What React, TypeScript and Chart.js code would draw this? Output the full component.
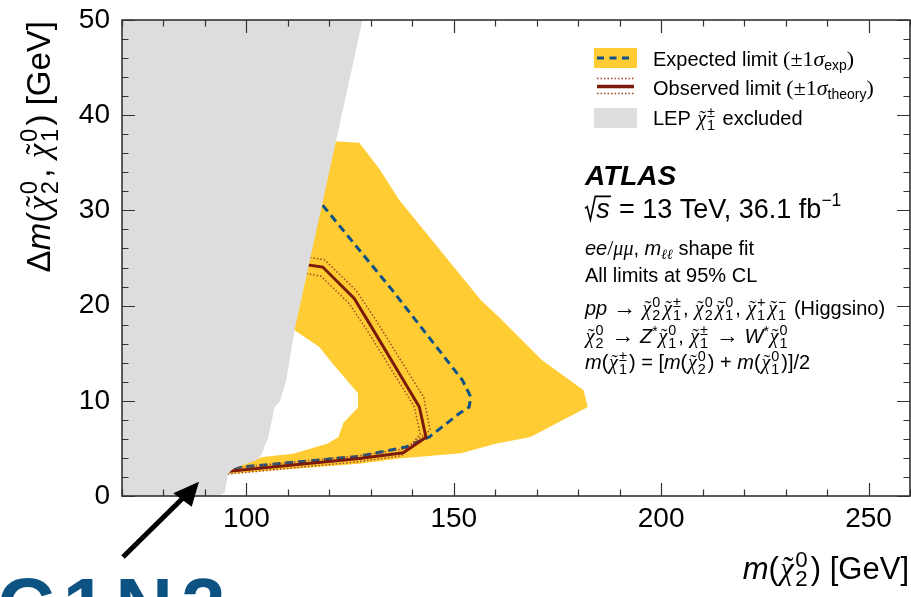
import React, { useEffect, useRef } from "react";
import { Chart, registerables } from "chart.js";

Chart.register(...registerables);

const SANS = '"Liberation Sans", Arial, Helvetica, sans-serif';
const SERIF = '"Liberation Serif", "DejaVu Serif", "Times New Roman", serif';

const YELLOW = "#ffcc33";
const GREY = "#dddddd";
const BLUE = "#0f5289";
const DARK_RED = "#7c1a0c";
const DOT_RED = "#a4482a";
const FRAME = "#333333";

// Axis ranges (GeV) and tick spacing
const xMin = 70, xMax = 260, xStep = 10, xLabelEvery = 50;
const yMin = 0, yMax = 50, yStep = 2, yLabelEvery = 10;

type Pt = [number, number];

// LEP chargino exclusion: m(chi2), delta m
const lepRegion: Pt[] = [
  [70, 0], [70, 50], [128.0, 50], [121.6, 37.3], [111.6, 17.4], [109.6, 12.15],
  [108.0, 9.87], [106.8, 9.35], [105.2, 6.03], [104.8, 5.67], [103.6, 4.28],
  [102.4, 3.75], [96.8, 2.88], [95.6, 2.35], [95.3, 1.65], [94.8, 0.42], [93.6, 0],
];

// Expected limit +-1 sigma band: outer contour and the enclosed allowed island
const expBandOuter: Pt[] = [
  [120.0, 37.3], [127.2, 37.1], [132.0, 34.4], [136.85, 31.1], [156.5, 20.6],
  [160.9, 18.8], [171.3, 14.25], [181.3, 11.1], [182.3, 9.35], [168.5, 6.2],
  [160.1, 5.5], [151.7, 4.5], [136.85, 3.93], [127.2, 3.4], [96.0, 2.35],
  [90, 2.0], [90, 37.3],
];
const expBandHole: Pt[] = [
  [111.6, 17.4], [117.6, 15.65], [120.8, 13.9], [126.9, 10.8], [126.9, 9.3],
  [123.4, 7.7], [122.2, 6.2], [119.5, 5.5], [111.2, 4.45], [104.0, 4.1],
  [99.0, 3.4], [99.0, 17.4],
];

// Expected limit contour
const expectedLimit: Pt[] = [
  [116.4, 31.6], [135.2, 21.6], [152.1, 12.15], [153.3, 11.1], [154.1, 10.4],
  [153.7, 9.35], [151.3, 8.66], [144.1, 6.2], [138.5, 5.15], [127.2, 4.17],
  [97.2, 2.98], [94.8, 2.8],
];

// Observed limit contour and its +-1 sigma(theory) variations
const observedLimit: Pt[] = [
  [112.8, 24.4], [118.4, 24.05], [126.0, 20.74], [130.4, 17.58], [141.7, 9.35],
  [143.3, 6.17], [137.8, 4.54], [127.2, 3.93], [96.4, 2.63], [94.1, 2.49],
];
const observedUp: Pt[] = [
  [112.8, 25.2], [118.8, 24.83], [126.4, 21.61], [131.25, 18.46], [142.75, 10.37],
  [144.3, 6.9], [138.3, 4.96], [127.2, 4.24], [96.4, 2.94], [94.1, 2.8],
];
const observedDown: Pt[] = [
  [112.8, 23.5], [118.0, 23.08], [124.8, 20.21], [129.6, 17.06], [140.5, 9.35],
  [141.9, 6.48], [137.3, 4.22], [127.2, 3.61], [96.4, 2.33], [94.1, 2.2],
];

const xy = (pts: Pt[]) => pts.map(([x, y]) => ({ x, y }));

// ---------- rich text helpers (sub/superscripts, tilde chi, radicals) ----------
type Run = {
  t?: string;
  serif?: boolean;
  it?: boolean;
  bold?: boolean;
  k?: number; // size factor
  rise?: number; // baseline shift in em, up positive
  chi?: [string, string]; // tilde chi with stacked superscript / subscript
  sqrt?: string; // text under a radical
};

const SCRIPT = 0.72;

const fontFor = (r: Run, S: number) =>
  `${r.it ? "italic " : ""}${r.bold ? "bold " : ""}${S * (r.k ?? 1)}px ${r.serif ? SERIF : SANS}`;

function runWidth(ctx: CanvasRenderingContext2D, r: Run, S: number) {
  if (r.chi) {
    ctx.font = `italic ${S}px ${SERIF}`;
    const wc = ctx.measureText("χ").width;
    ctx.font = `${SCRIPT * S}px ${SANS}`;
    const ws = Math.max(ctx.measureText(r.chi[0]).width, ctx.measureText(r.chi[1]).width);
    return 0.04 * S + wc + 0.05 * S + ws + 0.1 * S;
  }
  if (r.sqrt) {
    ctx.font = `italic ${S}px ${SANS}`;
    return 0.42 * S + ctx.measureText(r.sqrt).width + 0.06 * S;
  }
  ctx.font = fontFor(r, S);
  return ctx.measureText(r.t || "").width;
}

function drawRuns(
  ctx: CanvasRenderingContext2D,
  runs: Run[],
  x: number,
  y: number,
  S: number,
  align: "left" | "right" | "center" = "left",
  color = "#000"
) {
  const total = runs.reduce((a, r) => a + runWidth(ctx, r, S), 0);
  let cx = align === "left" ? x : align === "right" ? x - total : x - total / 2;
  ctx.save();
  ctx.fillStyle = color;
  ctx.strokeStyle = color;
  ctx.textAlign = "left";
  ctx.textBaseline = "alphabetic";
  for (const r of runs) {
    const rw = runWidth(ctx, r, S);
    if (r.chi) {
      const c0 = cx + 0.04 * S;
      ctx.font = `italic ${S}px ${SERIF}`;
      const wc = ctx.measureText("χ").width;
      ctx.fillText("χ", c0, y);
      ctx.font = `${S}px ${SERIF}`;
      const wt = ctx.measureText("˜").width;
      ctx.fillText("˜", c0 + (wc - wt) / 2 + 0.05 * S, y - 0.02 * S);
      ctx.font = `${SCRIPT * S}px ${SANS}`;
      ctx.fillText(r.chi[0], c0 + wc + 0.05 * S, y - 0.4 * S);
      ctx.fillText(r.chi[1], c0 + wc + 0.05 * S, y + 0.24 * S);
    } else if (r.sqrt) {
      ctx.beginPath();
      ctx.lineWidth = Math.max(1.2, S * 0.06);
      ctx.moveTo(cx, y - 0.36 * S);
      ctx.lineTo(cx + 0.08 * S, y - 0.42 * S);
      ctx.lineTo(cx + 0.2 * S, y + 0.06 * S);
      ctx.lineTo(cx + 0.38 * S, y - 0.8 * S);
      ctx.lineTo(cx + rw - 0.02 * S, y - 0.8 * S);
      ctx.stroke();
      ctx.font = `italic ${S}px ${SANS}`;
      ctx.fillText(r.sqrt, cx + 0.42 * S, y);
    } else {
      ctx.font = fontFor(r, S);
      ctx.fillText(r.t || "", cx, y - (r.rise || 0) * S);
    }
    cx += rw;
  }
  ctx.restore();
}

// ---------- text content ----------
const yTitle: Run[] = [
  { t: "Δ" }, { t: "m", it: true }, { t: "(" }, { chi: ["0", "2"] }, { t: ", " },
  { chi: ["0", "1"] }, { t: ") [GeV]" },
];
const xTitle: Run[] = [{ t: "m", it: true }, { t: "(" }, { chi: ["0", "2"] }, { t: ") [GeV]" }];

const legendRows: Run[][] = [
  [
    { t: "Expected limit " }, { t: "(±1", serif: true, k: 1.1 }, { t: "σ", serif: true, it: true, k: 1.1 },
    { t: "exp", k: 0.7, rise: -0.22 }, { t: ")", serif: true, k: 1.1 },
  ],
  [
    { t: "Observed limit " }, { t: "(±1", serif: true, k: 1.1 }, { t: "σ", serif: true, it: true, k: 1.1 },
    { t: "theory", k: 0.7, rise: -0.22 }, { t: ")", serif: true, k: 1.1 },
  ],
  [{ t: "LEP " }, { chi: ["±", "1"] }, { t: " excluded" }],
];

const arrow: Run = { t: " → ", serif: true, k: 1.15 };
const energyLine: Run[] = [
  { sqrt: "s" }, { t: " = 13 TeV, 36.1 fb" }, { t: "−1", k: 0.65, rise: 0.45 },
];
const channelLine: Run[] = [
  { t: "ee", it: true }, { t: "/", serif: true, k: 1.1 }, { t: "μμ", serif: true, it: true },
  { t: ", " }, { t: "m", it: true }, { t: "ℓℓ", serif: true, it: true, k: 0.7, rise: -0.2 },
  { t: " shape fit" },
];
const clLine: Run[] = [{ t: "All limits at 95% CL" }];
const processLines: Run[][] = [
  [
    { t: "pp", it: true }, arrow, { chi: ["0", "2"] }, { chi: ["±", "1"] },
    { t: ", " }, { chi: ["0", "2"] }, { chi: ["0", "1"] }, { t: ", " }, { chi: ["+", "1"] },
    { chi: ["−", "1"] }, { t: " (Higgsino)" },
  ],
  [
    { chi: ["0", "2"] }, arrow, { t: "Z", it: true }, { t: "*", k: 0.7, rise: 0.35 },
    { chi: ["0", "1"] }, { t: ", " }, { chi: ["±", "1"] }, arrow, { t: "W", it: true },
    { t: "*", k: 0.7, rise: 0.35 }, { chi: ["0", "1"] },
  ],
  [
    { t: "m", it: true }, { t: "(" }, { chi: ["±", "1"] }, { t: ") = [" }, { t: "m", it: true },
    { t: "(" }, { chi: ["0", "2"] }, { t: ") + " }, { t: "m", it: true }, { t: "(" },
    { chi: ["0", "1"] }, { t: ")]/2" },
  ],
];

// ---------- plugin drawing the filled regions, frame, legend and labels ----------
function polyPath(chart: any, pts: Pt[]) {
  const { x, y } = chart.scales;
  pts.forEach(([vx, vy], i) => {
    const px = x.getPixelForValue(vx);
    const py = y.getPixelForValue(vy);
    if (i === 0) chart.ctx.moveTo(px, py);
    else chart.ctx.lineTo(px, py);
  });
  chart.ctx.closePath();
}

const exclusionPlot = {
  id: "exclusionPlot",
  beforeDatasetsDraw(chart: any) {
    const { ctx, chartArea: a } = chart;
    ctx.save();
    ctx.beginPath();
    ctx.rect(a.left, a.top, a.right - a.left, a.bottom - a.top);
    ctx.clip();
    ctx.beginPath();
    polyPath(chart, expBandOuter);
    polyPath(chart, expBandHole);
    ctx.fillStyle = YELLOW;
    ctx.fill("evenodd");
    ctx.restore();
  },
  afterDatasetsDraw(chart: any) {
    const { ctx, chartArea: a, scales } = chart;
    ctx.save();
    ctx.beginPath();
    ctx.rect(a.left, a.top, a.right - a.left, a.bottom - a.top);
    ctx.clip();
    ctx.beginPath();
    polyPath(chart, lepRegion);
    ctx.fillStyle = GREY;
    ctx.fill();
    ctx.restore();

    // frame with inward ticks on all four sides
    ctx.save();
    ctx.strokeStyle = FRAME;
    ctx.lineWidth = 1.2;
    ctx.beginPath();
    for (const t of scales.x.ticks) {
      const px = Math.round(scales.x.getPixelForValue(t.value)) + 0.5;
      const len = t.value % xLabelEvery === 0 ? 13 : 6.5;
      ctx.moveTo(px, a.bottom);
      ctx.lineTo(px, a.bottom - len);
      ctx.moveTo(px, a.top);
      ctx.lineTo(px, a.top + len);
    }
    for (const t of scales.y.ticks) {
      const py = Math.round(scales.y.getPixelForValue(t.value)) + 0.5;
      const len = t.value % yLabelEvery === 0 ? 13 : 6.5;
      ctx.moveTo(a.left, py);
      ctx.lineTo(a.left + len, py);
      ctx.moveTo(a.right, py);
      ctx.lineTo(a.right - len, py);
    }
    ctx.stroke();
    ctx.lineWidth = 1.6;
    ctx.strokeRect(a.left, a.top, a.right - a.left, a.bottom - a.top);
    ctx.restore();
  },
  afterDraw(chart: any) {
    const { ctx } = chart;

    // axis titles
    ctx.save();
    ctx.translate(50, 21);
    ctx.rotate(-Math.PI / 2);
    drawRuns(ctx, yTitle, 0, 0, 33, "right");
    ctx.restore();
    drawRuns(ctx, xTitle, 909, 579, 31, "right");

    // legend
    const lx0 = 594, lx1 = 637;
    ctx.save();
    ctx.fillStyle = YELLOW;
    ctx.fillRect(lx0, 48, lx1 - lx0, 20);
    ctx.strokeStyle = BLUE;
    ctx.lineWidth = 3;
    ctx.setLineDash([7, 5.5]);
    ctx.beginPath();
    ctx.moveTo(597, 58);
    ctx.lineTo(633, 58);
    ctx.stroke();
    ctx.setLineDash([1.5, 2]);
    ctx.lineWidth = 1.5;
    ctx.strokeStyle = DOT_RED;
    ctx.beginPath();
    ctx.moveTo(597, 78.5);
    ctx.lineTo(634, 78.5);
    ctx.moveTo(597, 93.5);
    ctx.lineTo(634, 93.5);
    ctx.stroke();
    ctx.setLineDash([]);
    ctx.lineWidth = 3.5;
    ctx.strokeStyle = DARK_RED;
    ctx.beginPath();
    ctx.moveTo(597, 86.5);
    ctx.lineTo(634, 86.5);
    ctx.stroke();
    ctx.fillStyle = GREY;
    ctx.fillRect(lx0, 108, lx1 - lx0, 20);
    ctx.restore();
    drawRuns(ctx, legendRows[0], 653, 65.5, 20);
    drawRuns(ctx, legendRows[1], 653, 95, 20);
    drawRuns(ctx, legendRows[2], 653, 125, 20);

    // experiment label block
    drawRuns(ctx, [{ t: "ATLAS", it: true, bold: true }], 585, 185, 28);
    drawRuns(ctx, energyLine, 585, 218, 27);
    drawRuns(ctx, channelLine, 585, 255, 20);
    drawRuns(ctx, clLine, 585, 282, 20);
    drawRuns(ctx, processLines[0], 585, 315, 20);
    drawRuns(ctx, processLines[1], 585, 343, 20);
    drawRuns(ctx, processLines[2], 585, 369, 20);

    // pointer arrow towards the compressed corner
    ctx.save();
    ctx.strokeStyle = "#000";
    ctx.fillStyle = "#000";
    ctx.lineWidth = 5;
    ctx.beginPath();
    ctx.moveTo(123, 557);
    ctx.lineTo(185, 496);
    ctx.stroke();
    ctx.beginPath();
    ctx.moveTo(199, 481.7);
    ctx.lineTo(173.3, 493.3);
    ctx.lineTo(191.7, 506.7);
    ctx.closePath();
    ctx.fill();
    ctx.restore();

    // channel tag
    ctx.save();
    ctx.fillStyle = "#0c5283";
    ctx.font = `bold 80px ${SANS}`;
    ctx.textBaseline = "alphabetic";
    let tx = -3;
    for (const ch of "C1N2") {
      ctx.fillText(ch, tx, 634);
      tx += ctx.measureText(ch).width + 8;
    }
    ctx.restore();
  },
};

const lineStyle = { showLine: true, pointRadius: 0, pointHoverRadius: 0, tension: 0, fill: false };

export default function App() {
  const ref = useRef<HTMLCanvasElement>(null);

  useEffect(() => {
    if (!ref.current) return;
    const chart = new Chart(ref.current, {
      type: "scatter",
      data: {
        datasets: [
          { ...lineStyle, label: "Observed limit", data: xy(observedLimit), borderColor: DARK_RED, borderWidth: 3 },
          { ...lineStyle, label: "Observed +1σ", data: xy(observedUp), borderColor: DOT_RED, borderWidth: 1.5, borderDash: [1.5, 2] },
          { ...lineStyle, label: "Observed −1σ", data: xy(observedDown), borderColor: DOT_RED, borderWidth: 1.5, borderDash: [1.5, 2] },
          { ...lineStyle, label: "Expected limit", data: xy(expectedLimit), borderColor: BLUE, borderWidth: 3, borderDash: [8, 5] },
        ] as any,
      },
      options: {
        animation: false,
        responsive: true,
        maintainAspectRatio: false,
        layout: { padding: { left: 0, right: 1, top: 20, bottom: 0 } },
        plugins: { legend: { display: false }, tooltip: { enabled: false } },
        scales: {
          x: {
            type: "linear",
            min: xMin,
            max: xMax,
            afterFit: (s: any) => {
              s.height = 101;
              s.paddingLeft = 0;
              s.paddingRight = 0;
            },
            grid: { display: false, drawTicks: false },
            border: { display: false },
            ticks: {
              stepSize: xStep,
              autoSkip: false,
              maxRotation: 0,
              padding: 6,
              color: "#000",
              font: { family: SANS, size: 28 },
              callback: (v: any) => (Number(v) % xLabelEvery === 0 ? String(v) : ""),
            },
          },
          y: {
            type: "linear",
            min: yMin,
            max: yMax,
            afterFit: (s: any) => {
              s.width = 122;
              s.paddingTop = 0;
              s.paddingBottom = 0;
            },
            grid: { display: false, drawTicks: false },
            border: { display: false },
            ticks: {
              stepSize: yStep,
              autoSkip: false,
              padding: 12,
              color: "#000",
              font: { family: SANS, size: 28 },
              callback: (v: any) => (Number(v) % yLabelEvery === 0 ? String(v) : ""),
            },
          },
        },
      } as any,
      plugins: [exclusionPlot],
    });
    return () => chart.destroy();
  }, []);

  return (
    <div style={{ position: "fixed", left: 0, top: 0, width: 911, height: 597, background: "#fff" }}>
      <canvas ref={ref} />
    </div>
  );
}
